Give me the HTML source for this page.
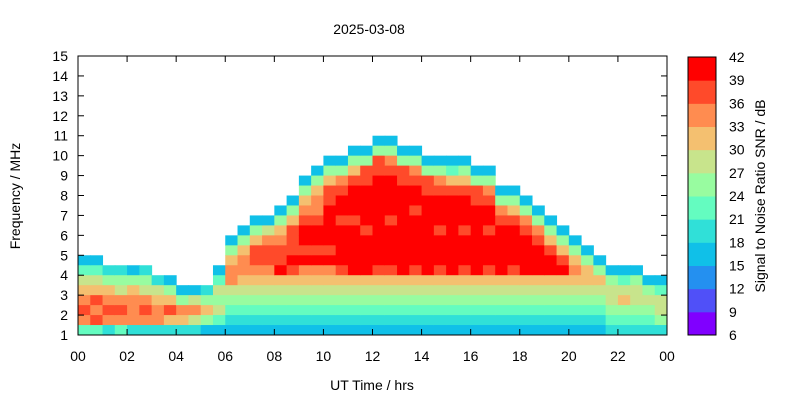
<!DOCTYPE html>
<html><head><meta charset="utf-8"><style>
body{margin:0;background:#fff;font-family:"Liberation Sans",sans-serif}
svg text{font-family:"Liberation Sans",sans-serif;font-size:14px;fill:#000}
</style></head><body>
<svg id="c" width="800" height="400"></svg>
<script>
const times=[0,24];
const freqRange=[1,15];
const snrLevels=[6,9,12,15,18,21,24,27,30,33,36,39,42];
const levelColors=["#8000ff","#5050f8","#2490f0","#10c0e8","#30e0d8","#64fcc0","#98fca0","#c8e48c","#f4c070","#ff8c50","#ff4a2a","#ff0000"];
const xTicks=["00","02","04","06","08","10","12","14","16","18","20","22","00"];
const yTicks=[1,2,3,4,5,6,7,8,9,10,11,12,13,14,15];
// each string = one half-hour column, rows from 15 MHz (top) down to 1 MHz in 0.5 MHz steps; chars = SNR level index
const cols=[
"...................."+"35789a95",
"...................."+"3578a9a5",
"....................."+"4689a94",
"....................."+"4679a95",
"....................."+"3689994",
"....................."+"4679a94",
"......................"+"478994",
"......................"+"368a84",
"......................."+"36984",
"......................."+"37974",
"......................."+"46863",
"....................."+"3576753",
".................."+"3689976543",
"................."+"36899876543",
"................"+"368aa9876543",
"................"+"379aa9876543",
"..............."+"3689aab876543",
".............."+"368aaaba876543",
"............"+"3689abbab9876543",
"..........."+"36899abbab9876543",
".........."+"368aabbbbab9876543",
".........."+"369abbabbbba876543",
"........."+"368abbbabbbbb876543",
"........."+"36aabbbbabbbb876543",
"........"+"36aabbbbbbbbba876543",
"........"+"369abbbbabbbba876543",
"........."+"36aabbbbbbbbb876543",
"........."+"369abbabbbbba876543",
".........."+"36aabbbbbbbb876543",
".........."+"369abbbabbba876543",
".........."+"358abbbbbbbb876543",
".........."+"368abbbabbba876543",
"..........."+"36aabbbbbbb876543",
"..........."+"369abbabbba876543",
"............."+"369abbbbb876543",
"............."+"368abbbba876543",
".............."+"369abbbb876543",
"..............."+"369abbb876543",
"................"+"368abb876543",
"................."+"368ab876543",
".................."+"3689876543",
"..................."+"368876543",
"...................."+"36876543",
"....................."+"3677654",
"....................."+"3578654",
"....................."+"3677654",
"......................"+"367654",
"......................"+"357764"
];
const NS="http://www.w3.org/2000/svg";
const svg=document.getElementById('c');
const L=78,R=667,T=56,B=335;
const xs=t=>L+(t-times[0])/(times[1]-times[0])*(R-L);
const ys=f=>B-(f-freqRange[0])/(freqRange[1]-freqRange[0])*(B-T);
function mk(tag,a,txt){const e=document.createElementNS(NS,tag);for(const k in a)e.setAttribute(k,a[k]);if(txt!==undefined)e.textContent=txt;svg.appendChild(e);return e;}
const nC=cols.length,dt=(times[1]-times[0])/nC;
cols.forEach((s,c)=>{for(let r=0;r<s.length;r++){const ch=s[r];if(ch==='.')continue;const lv=parseInt(ch,16);
const fTop=freqRange[1]-0.5*r,fBot=fTop-0.5;
const e=mk('rect',{x:xs(c*dt),y:ys(fTop),width:xs((c+1)*dt)-xs(c*dt)+0.5,height:ys(fBot)-ys(fTop)+0.5,fill:levelColors[lv]});

}});
const fr=mk('rect',{x:L,y:T,width:R-L,height:B-T,fill:'none',stroke:'#000'});

xTicks.forEach((lab,i)=>{const x=xs(i*2);mk('line',{x1:x,x2:x,y1:B,y2:B-6,stroke:'#000'});mk('line',{x1:x,x2:x,y1:T,y2:T+6,stroke:'#000'});
const t=mk('text',{x:x,y:B+26,'text-anchor':'middle'},lab);});
yTicks.forEach(v=>{const y=ys(v);mk('line',{x1:L,x2:L+6,y1:y,y2:y,stroke:'#000'});mk('line',{x1:R,x2:R-6,y1:y,y2:y,stroke:'#000'});
const t=mk('text',{x:L-10,y:y+5,'text-anchor':'end'},v);});
const CL=688,CR=716,CT=57,CB=335;
const cy=v=>CB-(v-snrLevels[0])/(snrLevels[snrLevels.length-1]-snrLevels[0])*(CB-CT);
levelColors.forEach((col,i)=>{const e=mk('rect',{x:CL,y:cy(snrLevels[i+1]),width:CR-CL,height:cy(snrLevels[i])-cy(snrLevels[i+1])+0.5,fill:col});
});
mk('rect',{x:CL,y:CT,width:CR-CL,height:CB-CT,fill:'none',stroke:'#000'});
snrLevels.forEach(v=>{const t=mk('text',{x:CR+13,y:cy(v)+5},v);});
let t=mk('text',{x:369,y:34,'text-anchor':'middle'},'2025-03-08');
t=mk('text',{x:372,y:390,'text-anchor':'middle'},'UT Time / hrs');
t=mk('text',{x:0,y:0,'text-anchor':'middle',transform:'translate(20,196) rotate(-90)'},'Frequency / MHz');
t=mk('text',{x:0,y:0,'text-anchor':'middle',transform:'translate(765,196) rotate(-90)'},'Signal to Noise Ratio SNR / dB');
</script>
</body></html>
